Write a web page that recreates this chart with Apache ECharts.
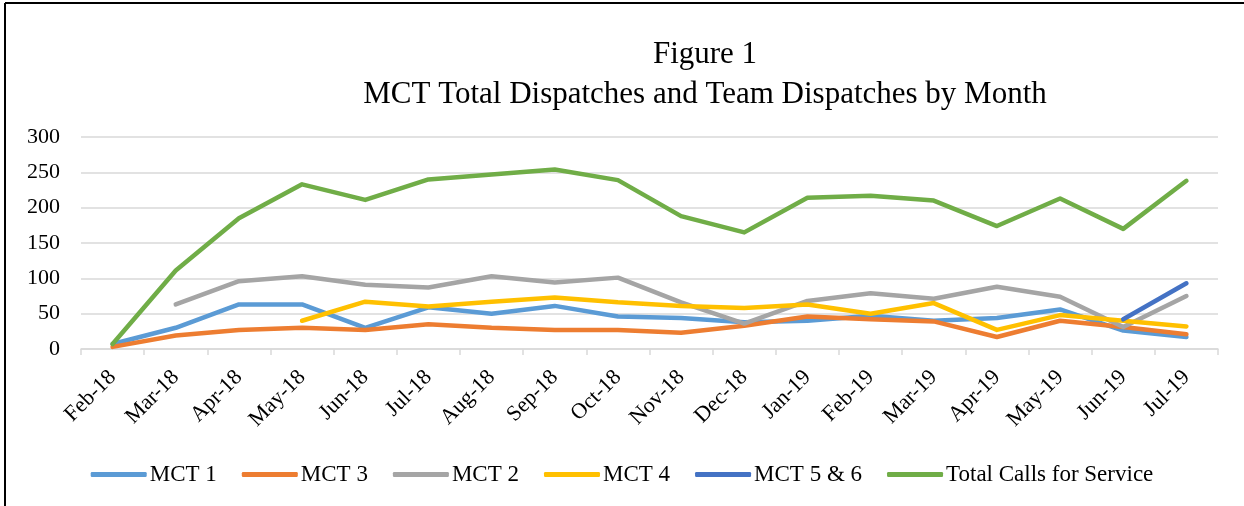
<!DOCTYPE html>
<html>
<head>
<meta charset="utf-8">
<script src="https://cdn.jsdelivr.net/npm/echarts@6/dist/echarts.min.js"></script>
<style>
  html, body { margin: 0; padding: 0; background: #fff; }
  #main { width: 1244px; height: 506px; }
</style>
</head>
<body>
<div id="main"></div>
<script>
// months on the x axis
var months = ['Feb-18', 'Mar-18', 'Apr-18', 'May-18', 'Jun-18', 'Jul-18', 'Aug-18', 'Sep-18', 'Oct-18',
  'Nov-18', 'Dec-18', 'Jan-19', 'Feb-19', 'Mar-19', 'Apr-19', 'May-19', 'Jun-19', 'Jul-19'];

var mct1 = [7, 30, 63, 63, 30, 59, 50, 61, 46, 44, 38, 40, 47, 40, 44, 56, 26, 17];
var mct3 = [3, 19, 27, 30, 27, 35, 30, 27, 27, 23, 33, 46, 42, 39, 17, 40, 31, 21];
var mct2 = [null, 63, 96, 103, 91, 87, 103, 94, 101, 66, 36, 68, 79, 71, 88, 74, 31, 75];
var mct4 = [null, null, null, 40, 67, 60, 67, 73, 66, 61, 58, 63, 50, 65, 27, 48, 40, 32];
var mct56 = [null, null, null, null, null, null, null, null, null, null, null, null, null, null, null, null, 42, 93];
var totalCalls = [7, 111, 185, 233, 211, 240, 247, 254, 239, 188, 165, 214, 217, 210, 174, 213, 170, 238];

var yTicks = { min: 0, max: 300, interval: 50 };

var font = 'Liberation Serif';

function line(name, data, color) {
  return {
    name: name,
    type: 'line',
    data: data,
    symbol: 'none',
    lineStyle: { width: 4.5, color: color, cap: 'round', join: 'round' },
    itemStyle: { color: color },
    connectNulls: false
  };
}

var chart = echarts.init(document.getElementById('main'));
chart.setOption({
  animation: false,
  title: {
    text: 'Figure 1\nMCT Total Dispatches and Team Dispatches by Month',
    left: 700,
    top: 30,
    textAlign: 'center',
    textStyle: { fontFamily: font, fontSize: 31, fontWeight: 'normal', color: '#000', lineHeight: 40 }
  },
  legend: {
    top: 458,
    left: 'center',
    itemWidth: 56,
    itemHeight: 5,
    itemGap: 25,
    icon: 'roundRect',
    textStyle: { fontFamily: font, fontSize: 23, color: '#000', padding: [0, 0, 0, -2] },
    data: ['MCT 1', 'MCT 3', 'MCT 2', 'MCT 4', 'MCT 5 & 6', 'Total Calls for Service']
  },
  grid: { left: 81, right: 26, top: 137, bottom: 157 },
  xAxis: {
    type: 'category',
    data: months,
    boundaryGap: true,
    axisLine: { lineStyle: { color: '#d9d9d9', width: 1.5 } },
    axisTick: { show: true, length: 6, lineStyle: { color: '#d9d9d9', width: 1.5 } },
    axisLabel: { rotate: 45, interval: 0, margin: 25, fontFamily: font, fontSize: 22, color: '#000' }
  },
  yAxis: {
    type: 'value',
    min: yTicks.min,
    max: yTicks.max,
    interval: yTicks.interval,
    axisLine: { show: false },
    axisTick: { show: false },
    splitLine: { lineStyle: { color: '#d9d9d9', width: 1.5 } },
    axisLabel: { margin: 21, fontFamily: font, fontSize: 22, color: '#000' }
  },
  graphic: [
    { type: 'line', shape: { x1: 5, y1: 3, x2: 1244, y2: 3 }, style: { stroke: '#000', lineWidth: 2 } },
    { type: 'line', shape: { x1: 5, y1: 3, x2: 5, y2: 506 }, style: { stroke: '#000', lineWidth: 2 } }
  ],
  series: [
    line('MCT 1', mct1, '#5B9BD5'),
    line('MCT 3', mct3, '#ED7D31'),
    line('MCT 2', mct2, '#A5A5A5'),
    line('MCT 4', mct4, '#FFC000'),
    line('MCT 5 & 6', mct56, '#4472C4'),
    line('Total Calls for Service', totalCalls, '#70AD47')
  ]
});
</script>
</body>
</html>
